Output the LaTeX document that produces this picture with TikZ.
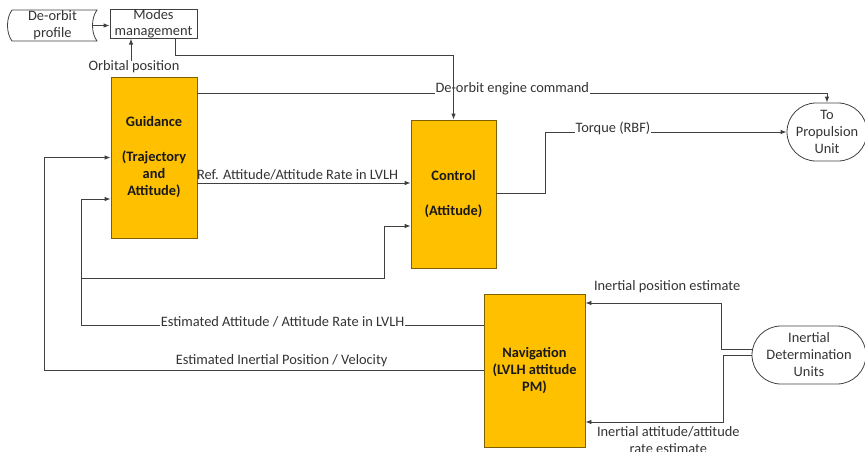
\documentclass[tikz,border=0pt]{standalone}
\usepackage{fontspec}
\setmainfont{Carlito}
\usetikzlibrary{arrows.meta}
\definecolor{blockfill}{HTML}{FFC000}
\definecolor{blockline}{HTML}{7F6000}
\definecolor{wire}{HTML}{404040}

\tikzset{
  block/.style={draw=blockline, fill=blockfill, line width=0.8pt, align=center,
    font=\fontsize{14.4}{17}\selectfont\bfseries, text=black!90, inner sep=0pt},
  term/.style={draw=wire, line width=0.8pt, rounded corners=29pt, align=center, inner sep=0pt},
  plain/.style={align=center, inner sep=0pt},
  link/.style={draw=wire, line width=0.8pt, -{Latex[length=6pt,width=4.5pt]}},
  tag/.style={fill=white, inner sep=1pt},
}

\begin{document}
\begin{tikzpicture}[x=1pt, y=-1pt, font=\fontsize{14.4}{17}\selectfont, text=black!80]
  \useasboundingbox (0,0) rectangle (865,451);

  % boxes
  \node[plain, minimum width=89pt, minimum height=31pt] (prof) at (52.5,25.5) {De-orbit\\profile};
  \draw[draw=wire, line width=0.8pt] (12,10) -- (97,10) .. controls (91,18) and (91,33) .. (97,41)
    -- (12,41) .. controls (6,33) and (6,18) .. cycle;
  \node[draw=wire, line width=0.8pt, plain, minimum width=87pt, minimum height=28pt] (modes) at (153.5,24) {Modes\\[-1pt]management};
  \node[plain] (orb) at (134,67) {Orbital position};
  \node[block, minimum width=86pt, minimum height=161pt] (guid) at (154,157.5) {Guidance\\[18pt](Trajectory\\and\\Attitude)};
  \node[block, minimum width=85pt, minimum height=148pt] (ctrl) at (453.5,194) {Control\\[18pt](Attitude)};
  \node[block, minimum width=101pt, minimum height=153pt] (nav) at (534.5,370.5) {Navigation\\(LVLH attitude\\PM)};
  \node[term, minimum width=80pt, minimum height=58pt] (prop) at (827,132) {To\\Propulsion\\Unit};
  \node[term, minimum width=114pt, minimum height=58pt] (idu) at (809,355) {Inertial\\Determination\\Units};
  \coordinate (tap) at (82,278);

  % connectors
  \draw[link] ([xshift=-4pt]prof.east) -- (modes.west |- prof.east);
  \draw[link] ([xshift=-3pt]orb.north) -- ([xshift=-3pt]orb.north |- modes.south);
  \draw[link] ([yshift=-17pt]guid.north east) -| (prop.north)
    node[tag, pos=0.25, yshift=5pt] {De-orbit engine command};
  \draw[link] ([xshift=-22pt]modes.south east) -- ++(0,17) -| (ctrl.north);
  \draw[link] ([yshift=-25.5pt]guid.east) -- ([yshift=-25.5pt]guid.east -| ctrl.west)
    node[above, pos=0.47, inner sep=2pt] {Ref. Attitude/Attitude Rate in LVLH};
  \draw[link] ([yshift=1pt]ctrl.east) -- ++(49,0) |- (prop.west)
    node[tag, pos=0.64, yshift=4pt] {Torque (RBF)};
  \draw[link] (nav.west) -| ([xshift=-66pt]guid.west)
    node[above, pos=0.23, inner sep=3pt] {Estimated Inertial Position / Velocity} -- (guid.west);
  \draw[link] ([yshift=45pt]nav.west) -| ([xshift=-29pt,yshift=-41.5pt]guid.west)
    node[tag, pos=0.25, yshift=4pt] {Estimated Attitude / Attitude Rate in LVLH}
    -- ([yshift=-41.5pt]guid.west);
  \draw[link] (tap) -| ([xshift=-26pt,yshift=-32pt]ctrl.west) -- ([yshift=-32pt]ctrl.west);
  \draw[link] ([yshift=6pt]idu.west) -- ++(-30,0) |- ([yshift=67.5pt]nav.east)
    node[above, pos=0.7, yshift=6pt] {Inertial position estimate};
  \draw[link] (idu.west) -- ++(-28,0) |- ([yshift=-51.5pt]nav.east)
    node[below, pos=0.7, yshift=-1pt, align=center] {Inertial attitude/attitude\\rate estimate};
\end{tikzpicture}
\end{document}
